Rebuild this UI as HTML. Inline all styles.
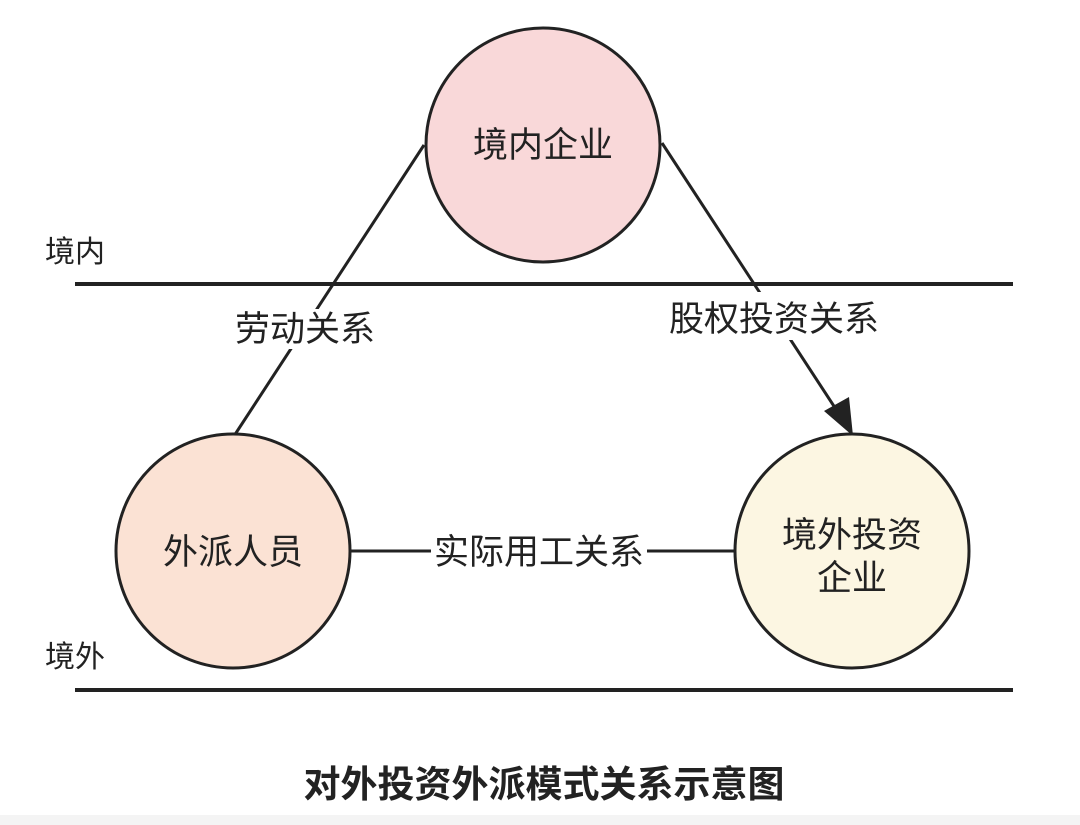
<!DOCTYPE html>
<html><head><meta charset="utf-8"><style>
html,body{margin:0;padding:0;background:#fff;}
svg{display:block;}
text{font-family:"Liberation Sans","Noto Sans CJK SC",sans-serif;fill:#222;}
</style></head><body>
<svg width="1080" height="825" viewBox="0 0 1080 825">
<rect width="1080" height="825" fill="#fff"/>
<rect x="0" y="815" width="1080" height="10" fill="#f4f4f4"/>
<line x1="75" y1="284" x2="1013" y2="284" stroke="#222" stroke-width="4"/>
<line x1="75" y1="690" x2="1013" y2="690" stroke="#222" stroke-width="4"/>
<line x1="424" y1="145" x2="234" y2="436" stroke="#222" stroke-width="3"/>
<line x1="662" y1="143" x2="843" y2="420" stroke="#222" stroke-width="3"/>
<polygon points="853,436 824,411 849,397" fill="#222"/>
<line x1="350" y1="551" x2="735" y2="551" stroke="#222" stroke-width="3"/>
<rect x="234" y="309" width="142" height="40" fill="#fff"/>
<rect x="666" y="292" width="216" height="48" fill="#fff"/>
<rect x="431" y="532" width="216" height="40" fill="#fff"/>
<circle cx="543" cy="145" r="117" fill="#f9d8d9" stroke="#222" stroke-width="3"/>
<circle cx="233" cy="551" r="117" fill="#fbe2d4" stroke="#222" stroke-width="3"/>
<circle cx="852" cy="551" r="117" fill="#fcf6e2" stroke="#222" stroke-width="3"/>
<text x="543" y="157" font-size="35" text-anchor="middle">境内企业</text>
<text x="233" y="564" font-size="35" text-anchor="middle">外派人员</text>
<text x="852" y="547" font-size="35" text-anchor="middle">境外投资</text>
<text x="852" y="590" font-size="35" text-anchor="middle">企业</text>
<text x="305" y="341" font-size="35" text-anchor="middle">劳动关系</text>
<text x="774" y="331" font-size="35" text-anchor="middle">股权投资关系</text>
<text x="539" y="564" font-size="35" text-anchor="middle">实际用工关系</text>
<text x="45" y="262" font-size="30">境内</text>
<text x="45" y="667" font-size="30">境外</text>
<text x="544" y="797" font-size="37" font-weight="bold" text-anchor="middle">对外投资外派模式关系示意图</text>
</svg>
</body></html>
